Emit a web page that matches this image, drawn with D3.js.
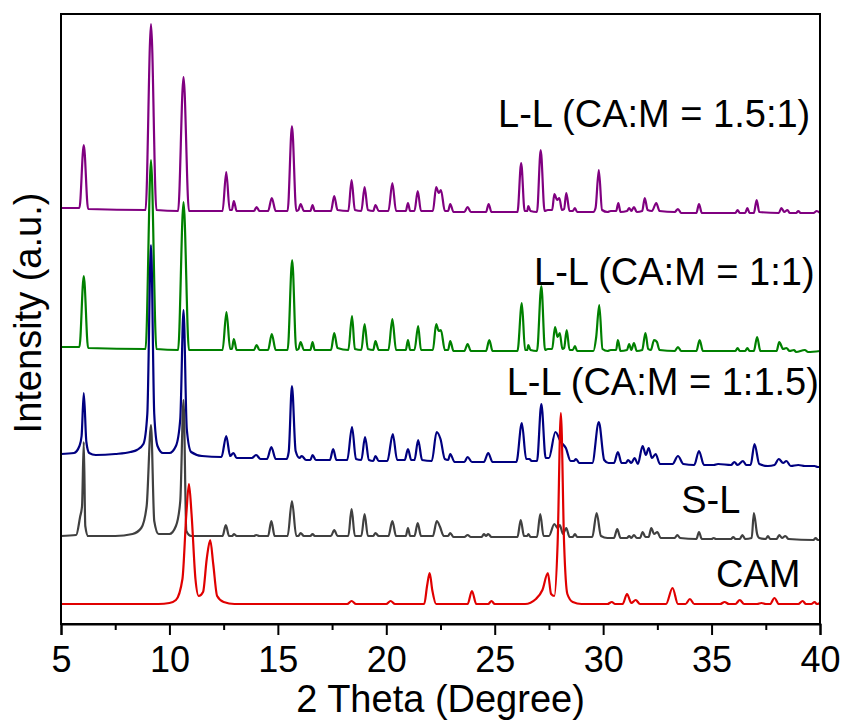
<!DOCTYPE html>
<html lang="en">
<head>
<meta charset="utf-8" />
<style>
    body { margin: 0; background: #fff; }
    text { font-family: "Liberation Sans", Arial, sans-serif; fill: #000; }
</style>
</head>
<body>
<script src="https://d3js.org/d3.v7.min.js"></script>
<script>
// x ticks
var xTicks = [5, 10, 15, 20, 25, 30, 35, 40];

// series, bottom to top: [2theta, intensity above own baseline]
var cam = [[5,0],[9.5,0],[10.0,1],[10.3,4],[10.6,25],[10.78,90],[10.9,120],[11.02,90],[11.2,25],[11.35,8],[11.55,12],[11.72,45],[11.88,64],[12.02,40],[12.2,8],[12.5,2],[13.0,0],[18.2,0],[18.4,3],[18.6,0],[20.0,0],[20.2,3],[20.4,0],[21.75,0],[21.88,18],[22.0,31],[22.12,14],[22.3,0],[23.75,0],[23.95,13],[24.15,0],[24.7,0],[24.85,3],[25.0,0],[26.4,0],[26.9,5],[27.2,14],[27.45,31],[27.6,10],[27.75,8],[27.9,60],[28.05,191],[28.2,60],[28.35,10],[28.6,2],[29.0,0],[30.2,0],[30.4,2],[30.55,0],[30.9,0],[31.1,10],[31.3,1],[31.5,4],[31.7,0],[32.9,0],[33.2,16],[33.45,0],[33.8,0],[34.0,5],[34.2,0],[35.4,0],[35.6,2],[35.8,0],[36.1,0],[36.3,4],[36.5,0],[37.1,0],[37.3,1],[37.5,0],[37.7,0],[37.9,6],[38.1,0],[39.0,0],[39.2,3],[39.35,0],[39.6,0],[39.75,2],[39.85,0],[40,1]];

var sl = [[5,0],[5.7,1],[5.88,19],[5.97,30],[6.05,94],[6.12,10],[6.25,0],[7.5,0],[8.3,2],[8.7,8],[8.95,30],[9.15,111],[9.3,15],[9.5,2],[10.0,2],[10.3,10],[10.5,35],[10.65,136],[10.78,5],[11.0,0],[12.45,0],[12.6,11],[12.75,0],[12.9,0],[12.97,2],[13.1,0],[13.9,0],[14.0,1],[14.15,0],[14.55,0],[14.7,15],[14.85,0],[15.45,0],[15.65,35],[15.85,0],[15.95,0],[16.05,3],[16.2,0],[16.5,0],[16.6,2],[16.7,0],[17.45,0],[17.6,6],[17.75,0],[18.25,0],[18.4,27],[18.55,0],[18.85,0],[19.0,22],[19.15,0],[19.4,0],[19.5,3],[19.65,0],[20.1,0],[20.28,15],[20.45,0],[20.9,0],[21.0,8],[21.1,0],[21.3,0],[21.45,13],[21.6,0],[22.15,0],[22.33,15],[22.48,9],[22.65,0],[22.85,0],[22.95,3],[23.1,-1],[23.6,-1],[23.75,1],[23.9,-1],[24.4,-1],[24.5,2],[24.6,0],[24.7,2],[24.85,-1],[26.05,-1],[26.2,16],[26.35,0],[26.5,0],[26.55,2],[26.65,-1],[26.95,-1],[27.1,22],[27.25,0],[27.5,0],[27.75,12],[27.9,8],[28.0,11],[28.15,2],[28.3,8],[28.45,-1],[28.6,-1],[28.7,2],[28.8,-1],[29.5,-1],[29.7,23],[29.9,0],[30.2,-2],[30.5,-2],[30.65,7],[30.8,-2],[31.1,-2],[31.2,0],[31.3,-2],[31.42,1],[31.55,-2],[31.7,-2],[31.82,4],[31.95,-1],[32.1,-1],[32.22,8],[32.35,2],[32.5,4],[32.65,-2],[33.3,-2],[33.42,1],[33.55,-2],[34.3,-3],[34.42,4],[34.55,-3],[35.0,-3],[35.1,-2],[35.2,-3],[35.9,-3],[36.0,-1],[36.1,-3],[36.3,-3],[36.42,1],[36.55,-3],[36.85,-2],[36.95,23],[37.1,2],[37.2,-2],[37.5,-3],[37.6,0],[37.7,-3],[38.0,-3],[38.12,1],[38.25,-2],[38.4,0],[38.55,-3],[39.7,-4],[39.8,-2],[39.9,-4],[40,-4]];

var ll115 = [[5,0],[5.6,1],[5.85,8],[5.95,18],[6.05,61],[6.17,12],[6.3,1],[6.6,-1],[7.5,0],[8.2,2],[8.5,4],[8.8,10],[8.98,40],[9.15,209],[9.3,40],[9.45,8],[9.7,1],[10.0,1],[10.3,8],[10.5,35],[10.65,144],[10.8,25],[11.0,2],[11.5,-2],[12.4,-3],[12.62,18],[12.8,-2],[12.95,1],[13.1,-4],[13.8,-4],[14.0,-1],[14.2,-5],[14.5,-5],[14.7,7],[14.9,-5],[15.4,-5],[15.5,2],[15.65,68],[15.82,3],[16.0,-4],[16.1,-2],[16.3,-6],[16.5,-6],[16.6,-1],[16.75,-6],[17.4,-6],[17.55,5],[17.7,-6],[18.2,-6],[18.42,27],[18.6,-5],[18.85,-6],[19.02,17],[19.2,-6],[19.4,-7],[19.5,-2],[19.65,-7],[20.05,-7],[20.3,20],[20.5,-6],[20.85,-6],[21.0,5],[21.15,-6],[21.3,-6],[21.47,14],[21.65,-6],[22.1,-7],[22.32,22],[22.5,15],[22.7,-5],[22.85,-6],[22.95,0],[23.15,-8],[23.6,-8],[23.75,-3],[23.95,-8],[24.5,-8],[24.7,1],[24.9,-8],[26.0,-8],[26.25,31],[26.45,-5],[26.6,-5],[26.7,-7],[26.95,-7],[27.15,50],[27.35,-4],[27.5,-4],[27.8,22],[28.05,12],[28.28,6],[28.5,-7],[28.65,-7],[28.75,-5],[28.9,-9],[29.5,-9],[29.8,32],[30.05,-6],[30.25,-9],[30.5,-9],[30.68,2],[30.85,-9],[31.05,-9],[31.15,-6],[31.3,-9],[31.45,-4],[31.6,-10],[31.82,8],[31.97,-1],[32.1,6],[32.25,-4],[32.42,0],[32.62,-10],[33.2,-10],[33.45,-2],[33.7,-10],[34.2,-11],[34.42,3],[34.65,-11],[35.1,-11],[35.3,-10],[35.9,-11],[36.05,-8],[36.2,-11],[36.45,-7],[36.6,-11],[36.8,-11],[36.98,10],[37.2,-10],[37.6,-12],[37.9,-11],[38.1,-5],[38.3,-9],[38.45,-7],[38.65,-12],[39.0,-11],[39.3,-12],[39.75,-12],[39.9,-13],[40,-13]];

var ll11 = [[5,0],[5.85,0],[6.05,71],[6.25,-1],[8.9,-2],[9.15,187],[9.4,-2],[10.4,-3],[10.65,145],[10.9,-3],[12.45,-3],[12.63,35],[12.8,-2],[12.88,-2],[12.97,8],[13.1,-3],[13.9,-3],[14.02,2],[14.15,-3],[14.55,-3],[14.72,13],[14.9,-3],[15.45,-3],[15.66,87],[15.85,-3],[15.95,-2],[16.05,5],[16.2,-3],[16.5,-3],[16.6,5],[16.7,-3],[17.45,-3],[17.6,14],[17.75,-1],[18.25,-3],[18.42,31],[18.55,-2],[18.85,-3],[19.0,23],[19.15,-2],[19.4,-3],[19.5,6],[19.65,-3],[20.1,-3],[20.28,28],[20.45,-3],[20.9,-3],[21.0,7],[21.1,-3],[21.3,-3],[21.47,21],[21.6,-3],[22.15,-3],[22.3,23],[22.42,16],[22.52,17],[22.7,-3],[22.85,-3],[22.95,6],[23.1,-4],[23.6,-4],[23.75,3],[23.9,-4],[24.6,-4],[24.75,7],[24.9,-4],[26.05,-4],[26.25,44],[26.4,-3],[26.5,-3],[26.55,2],[26.65,-3],[26.95,-4],[27.15,61],[27.32,-3],[27.45,-2],[27.65,-2],[27.78,20],[27.9,10],[28.0,14],[28.12,-2],[28.2,-1],[28.32,17],[28.45,-3],[28.6,-3],[28.7,1],[28.8,-4],[29.55,-4],[29.68,10],[29.82,42],[29.97,-2],[30.2,-4],[30.35,-3],[30.6,-3],[30.68,7],[30.8,-4],[31.1,-3],[31.2,3],[31.3,-3],[31.42,4],[31.55,-4],[31.8,-3],[31.95,14],[32.08,-2],[32.2,-3],[32.35,7],[32.48,5],[32.6,-3],[33.3,-4],[33.45,0],[33.6,-4],[34.3,-4],[34.45,7],[34.6,-4],[35.2,-4],[36.1,-4],[36.2,-1],[36.3,-4],[36.55,-4],[36.65,-1],[36.75,-4],[36.95,-4],[37.1,10],[37.25,-4],[38.0,-4],[38.12,5],[38.3,-2],[38.45,-1],[38.6,-4],[38.8,-3],[38.9,-5],[39.3,-3],[39.45,-5],[40,-4]];

var ll151 = [[5,0],[5.85,0],[6.05,63],[6.25,-1],[8.9,-2],[9.15,184],[9.4,-2],[10.4,-3],[10.65,131],[10.9,-3],[12.45,-3],[12.62,36],[12.78,-2],[12.88,-2],[12.97,7],[13.1,-3],[13.9,-3],[14.02,1],[14.15,-3],[14.55,-3],[14.72,10],[14.9,-3],[15.45,-3],[15.65,82],[15.85,-3],[15.95,-2],[16.05,4],[16.2,-3],[16.5,-3],[16.6,3],[16.7,-3],[17.45,-3],[17.6,12],[17.75,-2],[18.25,-3],[18.4,28],[18.55,-2],[18.85,-3],[19.0,21],[19.15,-2],[19.4,-3],[19.5,3],[19.65,-3],[20.1,-3],[20.28,25],[20.45,-3],[20.9,-3],[21.0,5],[21.1,-3],[21.3,-3],[21.45,17],[21.6,-3],[22.15,-3],[22.3,21],[22.42,15],[22.52,18],[22.7,-3],[22.85,-3],[22.95,4],[23.1,-4],[23.6,-4],[23.75,1],[23.9,-4],[24.6,-4],[24.72,4],[24.85,-4],[26.05,-4],[26.22,45],[26.38,-3],[26.5,-3],[26.55,2],[26.65,-3],[26.95,-4],[27.12,58],[27.3,-3],[27.45,-2],[27.65,-2],[27.75,14],[27.88,8],[27.98,10],[28.1,-2],[28.2,-1],[28.3,15],[28.45,-3],[28.6,-3],[28.7,0],[28.8,-4],[29.55,-4],[29.65,0],[29.8,38],[29.95,-2],[30.2,-4],[30.35,-3],[30.6,-3],[30.7,5],[30.8,-4],[31.1,-3],[31.2,0],[31.3,-3],[31.42,1],[31.55,-4],[31.8,-3],[31.92,10],[32.05,-2],[32.25,-3],[32.45,5],[32.6,-3],[33.3,-4],[33.45,-1],[33.6,-5],[34.3,-5],[34.42,4],[34.55,-5],[35.2,-5],[36.1,-5],[36.2,-2],[36.3,-5],[36.55,-5],[36.65,0],[36.75,-5],[36.95,-5],[37.08,8],[37.2,-4],[38.1,-5],[38.22,0],[38.35,-4],[38.5,-2],[38.6,-5],[38.9,-5],[39.0,-3],[39.1,-5],[39.7,-5],[39.85,-3],[40,-5]];

// stacking offsets and names (drawn purple first, red last)
var names   = ["L-L (CA:M = 1.5:1)", "L-L (CA:M = 1:1)", "L-L (CA:M = 1:1.5)", "S-L", "CAM"];
var offsets = [416, 277, 170, 88, 20];
var series  = [ll151, ll11, ll115, sl, cam];
var colors  = ["#800080", "#008000", "#000080", "#404040", "#e00000"];

var W = 845, H = 722;
var margin = { top: 14, right: 25, bottom: 98, left: 61 };
var wide = W - margin.left - margin.right;
var high = H - margin.top - margin.bottom;

var x = d3.scaleLinear().domain([5, 40]).range([0, wide]);
var y = d3.scaleLinear().domain([0, 610]).range([high, 0]);

var svg = d3.select("body").append("svg")
    .attr("width", W).attr("height", H);

var main = svg.append("g")
    .attr("transform", "translate(" + margin.left + "," + margin.top + ")");

main.append("clipPath").attr("id", "plotclip")
    .append("rect").attr("width", wide).attr("height", high);

var line = d3.line()
    .x(function (d) { return x(d[0]); })
    .curve(d3.curveMonotoneX);

series.forEach(function (s, i) {
    line.y(function (d) { return y(d[1] + offsets[i]); });
    main.append("path")
        .attr("d", line(s))
        .attr("fill", "none")
        .attr("stroke", colors[i])
        .attr("stroke-width", 2.2)
        .attr("stroke-linejoin", "round")
        .attr("clip-path", "url(#plotclip)");
});

// series labels
var labelPos = [[39.55, 497, "end"], [39.75, 339, "end"], [39.95, 229, "end"], [33.6, 111, "start"], [35.2, 37, "start"]];
names.forEach(function (n, i) {
    main.append("text")
        .attr("x", x(labelPos[i][0]))
        .attr("y", y(labelPos[i][1]))
        .attr("text-anchor", labelPos[i][2])
        .style("font-size", "38px")
        .text(n);
});

// frame
main.append("rect")
    .attr("width", wide).attr("height", high)
    .attr("fill", "none").attr("stroke", "#000").attr("stroke-width", 2);

// x axis
var xAxis = main.append("g")
    .attr("transform", "translate(0," + high + ")")
    .call(d3.axisBottom(x).tickValues(xTicks).tickSize(11).tickPadding(11).tickFormat(d3.format("d")));
xAxis.select(".domain").attr("stroke-width", 2);
xAxis.selectAll(".tick line").attr("stroke-width", 2);
xAxis.selectAll("text").style("font-size", "36px").style("font-family", "Liberation Sans, Arial, sans-serif");

main.append("g")
    .attr("transform", "translate(0," + high + ")")
    .call(d3.axisBottom(x).tickValues(d3.range(7.5, 40, 5)).tickSize(6).tickFormat(""))
    .call(function (g) { g.select(".domain").remove(); })
    .selectAll("line").attr("stroke-width", 2);

// axis titles
svg.append("text")
    .attr("text-anchor", "middle")
    .attr("x", margin.left + wide / 2)
    .attr("y", 712)
    .style("font-size", "38px")
    .text("2 Theta (Degree)");

svg.append("text")
    .attr("text-anchor", "middle")
    .attr("transform", "translate(41,313)rotate(-90)")
    .style("font-size", "38px")
    .text("Intensity (a.u.)");
</script>
</body>
</html>
